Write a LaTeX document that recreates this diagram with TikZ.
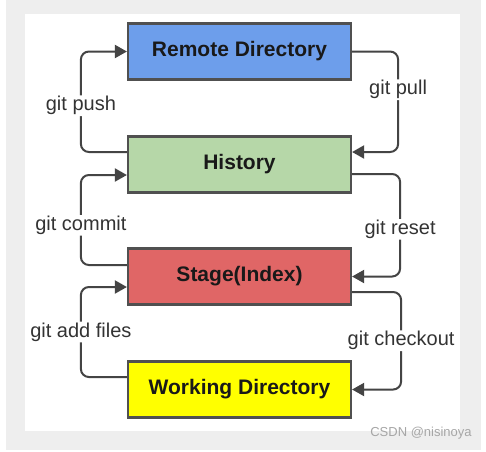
\documentclass[tikz,border=0pt]{standalone}
\usepackage{fontspec}
\setmainfont{Liberation Sans}
\usepackage{xcolor}
\usetikzlibrary{arrows.meta, positioning}
\definecolor{frame}{RGB}{238, 238, 238}
\definecolor{edge}{RGB}{80, 80, 80}
\definecolor{wire}{RGB}{68, 68, 68}
\definecolor{remotec}{RGB}{109, 158, 235}
\definecolor{historyc}{RGB}{182, 215, 168}
\definecolor{stagec}{RGB}{224, 102, 102}
\definecolor{workc}{RGB}{255, 255, 0}
\definecolor{labelc}{RGB}{51, 51, 51}
\tikzset{
    area/.style={rectangle, draw=edge, line width=2.2pt, minimum width=223pt, minimum height=56pt, inner sep=0pt, font=\fontsize{21}{25}\selectfont\bfseries, text=black!90},
    arr/.style={-{Triangle[length=12pt, width=13pt]}, line width=2pt, wire, rounded corners=8pt},
    cmd/.style={fill=white, inner sep=1pt, text=labelc, font=\fontsize{20}{24}\selectfont}
}

\begin{document}
\begin{tikzpicture}[x=1pt, y=-1pt]
        \useasboundingbox (0,0) rectangle (486,451);
        \fill[frame] (6,0) rectangle (481,450);
        \fill[white] (25,14) rectangle (460,431);

        \node[area, fill=remotec] (remote) at (239.5,51.5) {Remote Directory};
        \node[area, fill=historyc] (hist) at (239.5,164.5) {History};
        \node[area, fill=stagec] (stage) at (239.5,276.5) {Stage(Index)};
        \node[area, fill=workc] (work) at (239.5,389.5) {Working Directory};

        \draw[arr] ([yshift=12.5pt]hist.west)--++(-46,0) |- node[pos=0.23, cmd]{git push}(remote.west);
        \draw[arr] (remote.east)--++(46,0) |- node[pos=0.19, cmd]{git pull}([yshift=12.5pt]hist.east);
        \draw[arr] ([yshift=11.5pt]stage.west)--++(-46,0) |- node[pos=0.22, cmd]{git commit}([yshift=-10.5pt]hist.west);
        \draw[arr] ([yshift=-9.5pt]hist.east)--++(48,0) |- node[pos=0.27, cmd]{git reset}(stage.east);
        \draw[arr] ([yshift=12.5pt]work.west)--++(-46,0) |- node[pos=0.25, cmd]{git add files}([yshift=-10.5pt]stage.west);
        \draw[arr] ([yshift=-15.5pt]stage.east)--++(49,0) |- node[pos=0.25, cmd]{git checkout}(work.east);

        \node[text=black!35, font=\fontsize{13}{15}\selectfont] (mark) at (421,433) {CSDN @nisinoya};
    \end{tikzpicture}
\end{document}
